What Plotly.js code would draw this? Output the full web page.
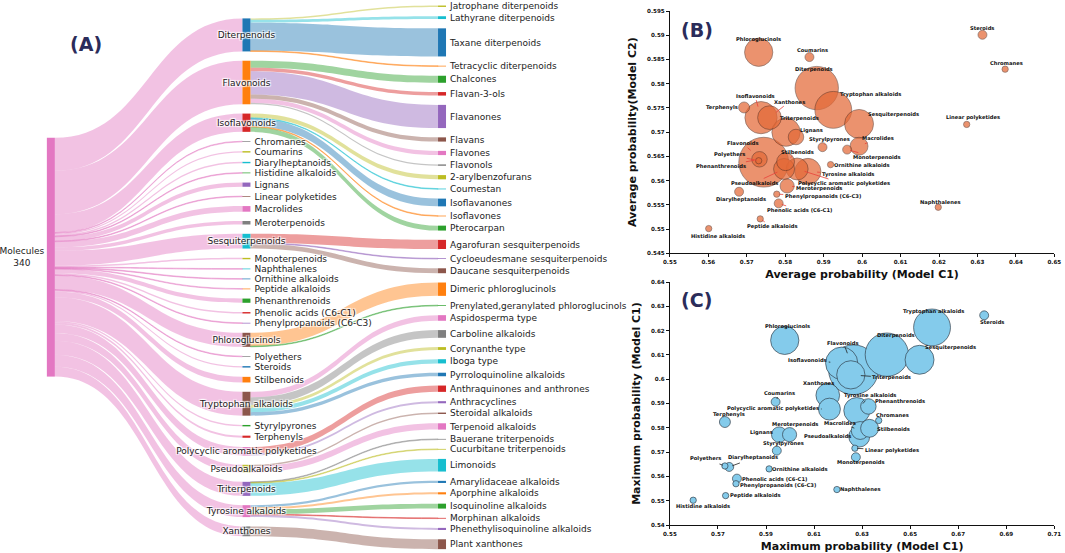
<!DOCTYPE html>
<html>
<head>
<meta charset="utf-8">
<script src="https://cdn.plot.ly/plotly-3.0.1.min.js"></script>
<style>html,body{margin:0;padding:0;background:#fff;}#chart{width:1065px;height:553px;}</style>
</head>
<body>
<div id="chart"></div>
<script>
// ---------------- DATA ----------------
const rootLabel = 'Molecules';
const rootCount = 340;

const classes = ['Diterpenoids','Flavonoids','Isoflavonoids','Chromanes','Coumarins','Diarylheptanoids',
 'Histidine alkaloids','Lignans','Linear polyketides','Macrolides','Meroterpenoids','Sesquiterpenoids',
 'Monoterpenoids','Naphthalenes','Ornithine alkaloids','Peptide alkaloids','Phenanthrenoids',
 'Phenolic acids (C6-C1)','Phenylpropanoids (C6-C3)','Phloroglucinols','Polyethers','Steroids',
 'Stilbenoids','Tryptophan alkaloids','Styrylpyrones','Terphenyls','Polycyclic aromatic polyketides',
 'Pseudoalkaloids','Triterpenoids','Tyrosine alkaloids','Xanthones'];
const classCounts = [47,62,26,1,2,2,1,6,1,8,5,21,2,1,1,1,6,2,1,20,1,2,8,34,2,3,12,11,20,17,14];

const subclasses = ['Jatrophane diterpenoids','Lathyrane diterpenoids','Taxane diterpenoids','Tetracyclic diterpenoids',
 'Chalcones','Flavan-3-ols','Flavanones','Flavans','Flavones','Flavonols',
 '2-arylbenzofurans','Coumestan','Isoflavanones','Isoflavones','Pterocarpan',
 'Agarofuran sesquiterpenoids','Cycloeudesmane sesquiterpenoids','Daucane sesquiterpenoids',
 'Dimeric phloroglucinols','Prenylated,geranylated phloroglucinols',
 'Aspidosperma type','Carboline alkaloids','Corynanthe type','Iboga type','Pyrroloquinoline alkaloids',
 'Anthraquinones and anthrones','Anthracyclines','Steroidal alkaloids','Terpenoid alkaloids',
 'Bauerane triterpenoids','Cucurbitane triterpenoids','Limonoids',
 'Amarylidaceae alkaloids','Aporphine alkaloids','Isoquinoline alkaloids','Morphinan alkaloids','Phenethylisoquinoline alkaloids',
 'Plant xanthones'];
const subParents = ['Diterpenoids','Diterpenoids','Diterpenoids','Diterpenoids',
 'Flavonoids','Flavonoids','Flavonoids','Flavonoids','Flavonoids','Flavonoids',
 'Isoflavonoids','Isoflavonoids','Isoflavonoids','Isoflavonoids','Isoflavonoids',
 'Sesquiterpenoids','Sesquiterpenoids','Sesquiterpenoids',
 'Phloroglucinols','Phloroglucinols',
 'Tryptophan alkaloids','Tryptophan alkaloids','Tryptophan alkaloids','Tryptophan alkaloids','Tryptophan alkaloids',
 'Polycyclic aromatic polyketides','Polycyclic aromatic polyketides','Pseudoalkaloids','Pseudoalkaloids',
 'Triterpenoids','Triterpenoids','Triterpenoids',
 'Tyrosine alkaloids','Tyrosine alkaloids','Tyrosine alkaloids','Tyrosine alkaloids','Tyrosine alkaloids',
 'Xanthones'];
const subCounts = [2,4,40,1, 10,5,33,6,6,2, 6,1,11,1,7, 13,1,7, 19,1, 8,11,4,6,5, 9,3,2,9, 1,1,18, 3,3,7,1,3, 14];

// scatter values, same order as classes
const avgC1 = [0.5882,0.5744,0.5737,0.6372,0.5863,0.5680,0.5601,0.5828,0.6272,0.5992,0.5805,0.5992,
 0.5961,0.6198,0.5918,0.5735,0.5733,0.5783,0.5778,0.5731,0.5731,0.6313,0.5801,0.5925,0.5897,0.5693,
 0.5831,0.5797,0.5802,0.5859,0.5759];
const avgC2 = [0.5791,0.5638,0.5730,0.5830,0.5855,0.5577,0.5501,0.5690,0.5716,0.5671,0.5589,0.5717,
 0.5664,0.5545,0.5633,0.5521,0.5644,0.5553,0.5572,0.5865,0.5641,0.5901,0.5639,0.5746,0.5669,0.5751,
 0.5624,0.5624,0.5700,0.5619,0.5730];
const maxC1 = [0.6403,0.6264,0.6215,0.6369,0.5940,0.5747,0.5597,0.5955,0.6270,0.6292,0.5998,0.6539,
 0.6274,0.6195,0.5913,0.5732,0.6326,0.5779,0.5775,0.5978,0.5729,0.6808,0.6331,0.6591,0.5945,0.5729,
 0.6164,0.6288,0.6253,0.6278,0.6157];
const maxC2 = [0.6101,0.6039,0.6066,0.5830,0.5907,0.5639,0.5502,0.5772,0.5716,0.5789,0.5772,0.6080,
 0.5679,0.5546,0.5631,0.5521,0.5888,0.5591,0.5570,0.6160,0.5643,0.6263,0.5798,0.6213,0.5706,0.5824,
 0.5877,0.5764,0.6018,0.5871,0.5934];

// ---------------- STYLE ----------------
const P = {blue:'#1f77b4',orange:'#ff7f0e',green:'#2ca02c',red:'#d62728',purple:'#9467bd',
  brown:'#8c564b',pink:'#e377c2',grey:'#7f7f7f',olive:'#bcbd22',cyan:'#17becf'};
const rootColor = P.pink;
const classColors = [P.blue,P.orange,P.red,P.grey,P.olive,P.cyan,P.green,P.purple,P.brown,P.pink,P.grey,P.cyan,
  P.olive,P.cyan,P.blue,P.orange,P.green,P.red,P.purple,P.brown,P.grey,P.blue,P.orange,P.brown,P.green,P.red,
  P.pink,P.olive,P.purple,P.pink,P.grey];
const subColors = [P.olive,P.cyan,P.blue,P.orange, P.green,P.red,P.purple,P.brown,P.pink,P.grey,
  P.olive,P.cyan,P.blue,P.orange,P.green, P.red,P.purple,P.brown, P.orange,P.green,
  P.pink,P.grey,P.olive,P.cyan,P.blue, P.red,P.purple,P.brown,P.pink, P.grey,P.olive,P.cyan,
  P.blue,P.orange,P.green,P.red,P.purple, P.brown];

// label offsets [ax, ay, leader]
const offB = {
 'Diterpenoids':[-3,-19,0],'Flavonoids':[-21,-19,1],'Isoflavonoids':[-6,-22,1],'Chromanes':[1,-6,0],
 'Coumarins':[3,-7,0],'Diarylheptanoids':[2,8,0],'Histidine alkaloids':[9,7,0],'Lignans':[16,-7,0],
 'Linear polyketides':[6,-7,0],'Macrolides':[19,-8,1],'Meroterpenoids':[32,3,1],'Sesquiterpenoids':[34,-9,0],
 'Monoterpenoids':[30,8,1],'Naphthalenes':[2,-5,0],'Ornithine alkaloids':[31,0,0],'Peptide alkaloids':[12,8,1],
 'Phenanthrenoids':[-38,7,1],'Phenolic acids (C6-C1)':[21,7,1],'Phenylpropanoids (C6-C3)':[46,2,1],
 'Phloroglucinols':[0,-13,0],'Polyethers':[-29,-6,1],'Steroids':[0,-7,0],'Stilbenoids':[12,-10,1],
 'Tryptophan alkaloids':[37,-15,0],'Styrylpyrones':[7,-8,1],'Terphenyls':[-22,0,0],
 'Polycyclic aromatic polyketides':[47,15,1],'Pseudoalkaloids':[-30,14,1],'Triterpenoids':[14,-14,0],
 'Tyrosine alkaloids':[40,3,1],'Xanthones':[20,-16,1]};
const offC = {
 'Diterpenoids':[9,-19,0],'Flavonoids':[-10,-27,1],'Isoflavonoids':[-34,-3,1],'Chromanes':[14,-6,0],
 'Coumarins':[4,-9,1],'Diarylheptanoids':[24,-9,1],'Histidine alkaloids':[10,6,0],'Lignans':[-18,-2,0],
 'Linear polyketides':[37,2,1],'Macrolides':[-20,-8,1],'Meroterpenoids':[5,-10,0],'Sesquiterpenoids':[31,-12,0],
 'Monoterpenoids':[5,5,0],'Naphthalenes':[24,0,0],'Ornithine alkaloids':[31,0,0],'Peptide alkaloids':[29,0,0],
 'Phenanthrenoids':[32,-5,0],'Phenolic acids (C6-C1)':[38,0,0],'Phenylpropanoids (C6-C3)':[42,2,0],
 'Phloroglucinols':[3,-14,0],'Polyethers':[-19,-7,1],'Steroids':[8,7,0],'Stilbenoids':[24,1,1],
 'Tryptophan alkaloids':[1,-16,0],'Styrylpyrones':[7,-7,0],'Terphenyls':[4,-7,0],
 'Polycyclic aromatic polyketides':[-56,-1,1],'Pseudoalkaloids':[-32,-1,0],'Triterpenoids':[41,3,1],
 'Tyrosine alkaloids':[13,-15,1],'Xanthones':[-9,-12,0]};

function rgba(hex,a){const n=parseInt(hex.slice(1),16);return 'rgba('+(n>>16&255)+','+(n>>8&255)+','+(n&255)+','+a+')';}

// ---------------- SANKEY ----------------
const FIG_W = 1065, FIG_H = 553;
const SK_DOM = {x:[0.044,0.4188], y:[0.007,0.990]};
const NODE_PAD = 9.3, NODE_TH = 8;

const nodeLabels = [rootLabel+'<br>'+rootCount].concat(classes, subclasses);
const nodeColors = [rootColor].concat(classColors, subColors);
const src=[], tgt=[], val=[], lcol=[];
classes.forEach((c,i)=>{src.push(0);tgt.push(1+i);val.push(classCounts[i]);lcol.push(rgba(rootColor,0.45));});
subclasses.forEach((s,j)=>{src.push(1+classes.indexOf(subParents[j]));tgt.push(1+classes.length+j);val.push(subCounts[j]);lcol.push(rgba(subColors[j],0.45));});

// ordered stacking of the columns (same scale rule as the sankey engine: min over columns)
const skW = (SK_DOM.x[1]-SK_DOM.x[0])*FIG_W, skH = (SK_DOM.y[1]-SK_DOM.y[0])*FIG_H;
const nodeVals = [rootCount].concat(classCounts, subCounts);
const cols = [[0], classes.map((c,i)=>1+i), subclasses.map((s,j)=>1+classes.length+j)];
const ky = Math.min.apply(null, cols.map(c=>(skH-(c.length-1)*NODE_PAD)/c.reduce((a,i)=>a+nodeVals[i],0)));
const nodeX = new Array(nodeVals.length), nodeY = new Array(nodeVals.length);
const centerPx = new Array(nodeVals.length);
[1,2].forEach(ci=>{
  const c = cols[ci];
  const total = c.reduce((a,i)=>a+nodeVals[i]*ky,0)+(c.length-1)*NODE_PAD;
  let y = (skH-total)/2;
  c.forEach(i=>{const h=nodeVals[i]*ky; centerPx[i]=y+h/2; y+=h+NODE_PAD;});
});
// root at weighted centre of its targets
centerPx[0] = classes.reduce((a,c,i)=>a+classCounts[i]*centerPx[1+i],0)/rootCount;
cols.forEach((c,ci)=>c.forEach(i=>{
  nodeX[i] = (NODE_TH/2 + ci*(skW-NODE_TH)/2)/skW;
  nodeY[i] = centerPx[i]/skH;
}));

const sankey = {
  type:'sankey', arrangement:'fixed', hoverinfo:'none',
  domain:SK_DOM,
  textfont:{family:'DejaVu Sans', size:9, color:'#222'},
  node:{label:nodeLabels, color:nodeColors, pad:NODE_PAD, thickness:NODE_TH, line:{width:0}, align:'left',
    x:nodeX, y:nodeY, hoverinfo:'none'},
  link:{source:src, target:tgt, value:val, color:lcol, hoverinfo:'none'}
};

// ---------------- SCATTERS ----------------
const sizeref = 0.05;
const diam = c => Math.sqrt(c/sizeref);
const orderIdx = classes.map((c,i)=>i).sort((a,b)=>classCounts[b]-classCounts[a]);
const pick = arr => orderIdx.map(i=>arr[i]);

const scB = {type:'scatter', mode:'markers', xaxis:'x', yaxis:'y', hoverinfo:'none',
  x:pick(avgC1), y:pick(avgC2), text:pick(classes),
  marker:{size:pick(classCounts), sizemode:'area', sizeref:sizeref, sizemin:1,
    color:'rgb(228,105,55)', opacity:0.72, line:{color:'rgba(70,40,30,0.9)', width:0.7}}};
const scC = {type:'scatter', mode:'markers', xaxis:'x2', yaxis:'y2', hoverinfo:'none',
  x:pick(maxC1), y:pick(maxC2), text:pick(classes),
  marker:{size:pick(classCounts), sizemode:'area', sizeref:sizeref, sizemin:1,
    color:'#84CBEB', opacity:1, line:{color:'rgba(40,50,60,0.9)', width:0.7}}};

const annFont = {family:'DejaVu Sans', size:5.2, color:'#111', weight:'bold'};
const anns = [];
function addLabels(xs, ys, offs, xr, yr, lineColor){
  classes.forEach((c,i)=>{
    const o = offs[c];
    anns.push({x:xs[i], y:ys[i], xref:xr, yref:yr, text:c, font:annFont, showarrow:true,
      ax:o[0], ay:o[1], arrowhead:0, arrowwidth:o[2]?0.8:0.1, arrowcolor:o[2]?lineColor:'rgba(0,0,0,0)',
      standoff:diam(classCounts[i])/2, xanchor:'center', yanchor:'middle'});
  });
}
addLabels(avgC1, avgC2, offB, 'x', 'y', '#e8413a');
addLabels(maxC1, maxC2, offC, 'x2', 'y2', '#222');

const panelFont = {family:'DejaVu Sans', size:19, color:'#2b2c5a', weight:'bold'};
anns.push({xref:'paper', yref:'paper', x:0.081, y:0.92, xanchor:'center', yanchor:'middle', text:'(A)', showarrow:false, font:panelFont});
anns.push({xref:'x domain', yref:'y domain', x:0.07, y:0.92, xanchor:'center', yanchor:'middle', text:'(B)', showarrow:false, font:panelFont});
anns.push({xref:'x2 domain', yref:'y2 domain', x:0.07, y:0.925, xanchor:'center', yanchor:'middle', text:'(C)', showarrow:false, font:panelFont});

const tickFont = {family:'DejaVu Sans', size:5.6, color:'#111', weight:'bold'};
const titleFont = {family:'DejaVu Sans', size:11, color:'#111', weight:'bold'};
function ax(extra){
  return Object.assign({showline:true, linecolor:'#111', linewidth:1, ticks:'outside', ticklen:3, tickwidth:1,
    tickcolor:'#111', showgrid:false, zeroline:false, tickfont:tickFont, automargin:false}, extra);
}
const layout = {
  width:FIG_W, height:FIG_H, margin:{l:0,r:0,t:0,b:0}, paper_bgcolor:'#fff', plot_bgcolor:'#fff',
  showlegend:false, hovermode:false,
  xaxis: ax({domain:[0.629,0.990], range:[0.55,0.65], tick0:0.55, dtick:0.01, anchor:'y',
    title:{text:'Average probability (Model C1)', font:titleFont, standoff:6}}),
  yaxis: ax({domain:[0.542,0.980], range:[0.545,0.595], tick0:0.545, dtick:0.005, anchor:'x',
    title:{text:'Average probability(Model C2)', font:titleFont, standoff:8}}),
  xaxis2: ax({domain:[0.629,0.990], range:[0.55,0.71], tick0:0.55, dtick:0.02, anchor:'y2',
    title:{text:'Maximum probability (Model C1)', font:titleFont, standoff:6}}),
  yaxis2: ax({domain:[0.0506,0.490], range:[0.54,0.64], tick0:0.54, dtick:0.01, anchor:'x2',
    title:{text:'Maximum probability (Model C1)', font:titleFont, standoff:8}}),
  annotations: anns
};

function fixLabels(gd){
  const labels = gd.querySelectorAll('.node-label');
  labels.forEach(el=>{
    const d = el.__data__;
    if(!d || !d.node) return;
    const n = d.node;
    const tr = el.getAttribute('transform') || '';
    const m = tr.match(/translate\(\s*([-\d.e]+)[ ,]+([-\d.e]+)\s*\)/);
    const ty = m ? parseFloat(m[2]) : 0;
    const w = (d.visibleWidth != null) ? d.visibleWidth : (n.x1 - n.x0);
    const gap = 2.5;
    let anchor, tx;
    if(!n.targetLinks || n.targetLinks.length === 0){
      anchor = 'middle';
      el.setAttribute('text-anchor', anchor);
      let bw = 40; try { bw = el.getBBox().width; } catch(e){}
      tx = -gap - bw/2;
    } else if(!n.sourceLinks || n.sourceLinks.length === 0){
      anchor = 'start'; tx = w + 4;
    } else {
      anchor = 'middle'; tx = w/2;
    }
    el.setAttribute('text-anchor', anchor);
    el.setAttribute('transform', 'translate(' + tx + ',' + ty + ')');
  });
}

const gd = document.getElementById('chart');
Plotly.newPlot(gd, [sankey, scB, scC], layout, {displayModeBar:false, responsive:false}).then(()=>fixLabels(gd));
</script>
</body>
</html>
